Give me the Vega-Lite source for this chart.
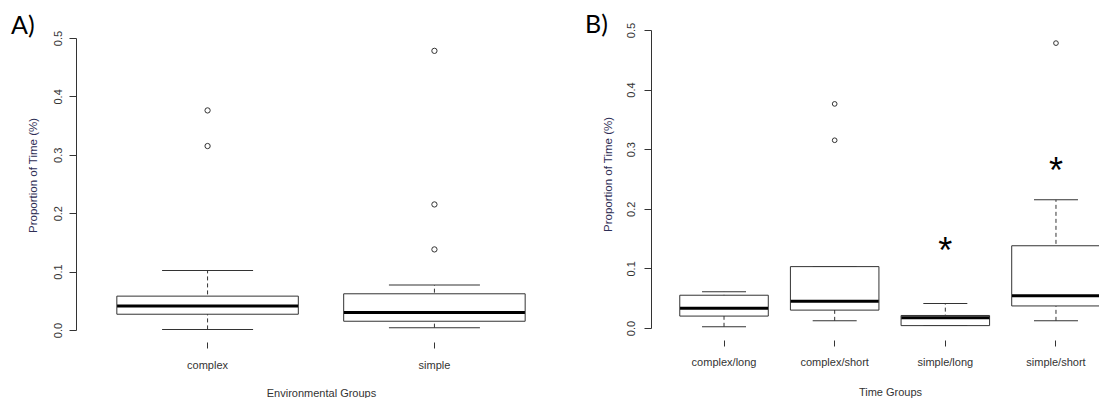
{
  "$schema": "https://vega.github.io/schema/vega-lite/v6.json",
  "padding": {"left": 11, "top": 13, "right": 0, "bottom": 0},
  "background": "white",
  "bounds": "flush",
  "spacing": 85,
  "datasets": {
    "boxA": [
      {"group": "complex", "lower": 0.001, "q1": 0.027, "median": 0.041, "q3": 0.058, "upper": 0.102},
      {"group": "simple", "lower": 0.004, "q1": 0.015, "median": 0.030, "q3": 0.062, "upper": 0.077}
    ],
    "outA": [
      {"group": "complex", "value": 0.376},
      {"group": "complex", "value": 0.315},
      {"group": "simple", "value": 0.478},
      {"group": "simple", "value": 0.215},
      {"group": "simple", "value": 0.138}
    ],
    "boxB": [
      {"group": "complex/long", "lower": 0.002, "q1": 0.020, "median": 0.033, "q3": 0.055, "upper": 0.061},
      {"group": "complex/short", "lower": 0.012, "q1": 0.030, "median": 0.045, "q3": 0.103, "upper": 0.103},
      {"group": "simple/long", "lower": 0.004, "q1": 0.004, "median": 0.017, "q3": 0.021, "upper": 0.041},
      {"group": "simple/short", "lower": 0.012, "q1": 0.037, "median": 0.054, "q3": 0.138, "upper": 0.215}
    ],
    "outB": [
      {"group": "complex/short", "value": 0.376},
      {"group": "complex/short", "value": 0.315},
      {"group": "simple/short", "value": 0.478}
    ],
    "stars": [
      {"group": "simple/long", "value": 0.141, "label": "*"},
      {"group": "simple/short", "value": 0.275, "label": "*"}
    ]
  },
  "hconcat": [
    {
      "width": 490,
      "height": 300,
      "title": {"text": "A)", "anchor": "start", "frame": "group", "font": "Lato", "fontSize": 25, "fontWeight": "normal", "color": "black", "baseline": "alphabetic", "dx": -65, "dy": 33},
      "layer": [
        {
          "data": {"name": "boxA"},
          "mark": {"type": "rule", "strokeDash": [4, 3], "color": "#333", "strokeWidth": 1, "opacity": 1},
          "encoding": {
            "x": {"field": "group", "type": "nominal", "sort": null,
              "scale": {"type": "band", "paddingInner": 0.2, "paddingOuter": 0.18},
              "axis": {"title": "Environmental Groups", "domain": false, "offset": 12, "tickSize": 6, "labelAngle": 0, "labelPadding": 11, "titlePadding": 17}},
            "y": {"field": "lower", "type": "quantitative",
              "scale": {"domain": [0, 0.5137], "nice": false, "zero": false},
              "axis": {"values": [0, 0.1, 0.2, 0.3, 0.4, 0.5], "format": ".1f", "labelAngle": 270, "tickSize": 7, "labelPadding": 6, "domainDash": [292, 40], "grid": false, "title": "Proportion of Time (%)", "titlePadding": 14, "titleY": 145, "titleColor": "#2e2e55", "titleFontSize": 11.5}},
            "y2": {"field": "upper"}
          }
        },
        {
          "data": {"name": "boxA"},
          "mark": {"type": "tick", "size": 91, "thickness": 1, "color": "#333", "opacity": 1},
          "encoding": {"x": {"field": "group", "type": "nominal", "sort": null}, "y": {"field": "lower", "type": "quantitative"}}
        },
        {
          "data": {"name": "boxA"},
          "mark": {"type": "tick", "size": 91, "thickness": 1, "color": "#333", "opacity": 1},
          "encoding": {"x": {"field": "group", "type": "nominal", "sort": null}, "y": {"field": "upper", "type": "quantitative"}}
        },
        {
          "data": {"name": "boxA"},
          "mark": {"type": "bar", "fill": "white", "stroke": "#333", "strokeWidth": 1, "opacity": 1},
          "encoding": {"x": {"field": "group", "type": "nominal", "sort": null}, "y": {"field": "q1", "type": "quantitative"}, "y2": {"field": "q3"}}
        },
        {
          "data": {"name": "boxA"},
          "mark": {"type": "tick", "size": 181, "thickness": 3, "color": "black", "opacity": 1},
          "encoding": {"x": {"field": "group", "type": "nominal", "sort": null}, "y": {"field": "median", "type": "quantitative"}}
        },
        {
          "data": {"name": "outA"},
          "mark": {"type": "point", "shape": "circle", "filled": false, "size": 28, "stroke": "#333", "strokeWidth": 1, "opacity": 1},
          "encoding": {"x": {"field": "group", "type": "nominal", "sort": null}, "y": {"field": "value", "type": "quantitative"}}
        },
        {
          "mark": {"type": "rule", "color": "#333", "strokeWidth": 1},
          "encoding": {"x": {"datum": "complex"}, "x2": {"datum": "simple"}, "y": {"datum": -0.021}}
        }
      ]
    },
    {
      "width": 478,
      "height": 298,
      "title": {"text": "B)", "anchor": "start", "frame": "group", "font": "Lato", "fontSize": 25, "fontWeight": "normal", "color": "black", "baseline": "alphabetic", "dx": -66, "dy": 40},
      "layer": [
        {
          "data": {"name": "boxB"},
          "mark": {"type": "rule", "strokeDash": [4, 3], "color": "#333", "strokeWidth": 1, "opacity": 1},
          "encoding": {
            "x": {"field": "group", "type": "nominal", "sort": null,
              "scale": {"type": "band", "paddingInner": 0.2, "paddingOuter": 0.26},
              "axis": {"title": "Time Groups", "domain": false, "offset": 12, "tickSize": 6, "labelAngle": 0, "labelPadding": 10, "titlePadding": 19}},
            "y": {"field": "lower", "type": "quantitative",
              "scale": {"domain": [0, 0.5], "nice": false, "zero": false},
              "axis": {"values": [0, 0.1, 0.2, 0.3, 0.4, 0.5], "format": ".1f", "labelAngle": 270, "tickSize": 7, "labelPadding": 8, "grid": false, "title": "Proportion of Time (%)", "titlePadding": 12, "titleY": 144, "titleColor": "#2e2e55", "titleFontSize": 11.5}},
            "y2": {"field": "upper"}
          }
        },
        {
          "data": {"name": "boxB"},
          "mark": {"type": "tick", "size": 44, "thickness": 1, "color": "#333", "opacity": 1},
          "encoding": {"x": {"field": "group", "type": "nominal", "sort": null}, "y": {"field": "lower", "type": "quantitative"}}
        },
        {
          "data": {"name": "boxB"},
          "mark": {"type": "tick", "size": 44, "thickness": 1, "color": "#333", "opacity": 1},
          "encoding": {"x": {"field": "group", "type": "nominal", "sort": null}, "y": {"field": "upper", "type": "quantitative"}}
        },
        {
          "data": {"name": "boxB"},
          "mark": {"type": "bar", "fill": "white", "stroke": "#333", "strokeWidth": 1, "opacity": 1},
          "encoding": {"x": {"field": "group", "type": "nominal", "sort": null}, "y": {"field": "q1", "type": "quantitative"}, "y2": {"field": "q3"}}
        },
        {
          "data": {"name": "boxB"},
          "mark": {"type": "tick", "size": 88, "thickness": 3, "color": "black", "opacity": 1},
          "encoding": {"x": {"field": "group", "type": "nominal", "sort": null}, "y": {"field": "median", "type": "quantitative"}}
        },
        {
          "data": {"name": "outB"},
          "mark": {"type": "point", "shape": "circle", "filled": false, "size": 22, "stroke": "#333", "strokeWidth": 1, "opacity": 1},
          "encoding": {"x": {"field": "group", "type": "nominal", "sort": null}, "y": {"field": "value", "type": "quantitative"}}
        },
        {
          "data": {"name": "stars"},
          "mark": {"type": "text", "font": "Liberation Sans", "fontSize": 36, "color": "black", "baseline": "middle", "align": "center", "dy": 8},
          "encoding": {"x": {"field": "group", "type": "nominal", "sort": null}, "y": {"field": "value", "type": "quantitative"}, "text": {"field": "label"}}
        },
        {
          "mark": {"type": "rule", "color": "#333", "strokeWidth": 1},
          "encoding": {"x": {"datum": "complex/long"}, "x2": {"datum": "simple/short"}, "y": {"datum": -0.02}}
        }
      ]
    }
  ],
  "config": {
    "view": {"stroke": null},
    "axis": {"labelFont": "Liberation Sans", "titleFont": "Liberation Sans", "labelFontSize": 11, "titleFontSize": 11, "titleFontWeight": "normal", "labelColor": "#333", "titleColor": "#333", "tickColor": "#333", "domainColor": "#333"}
  }
}
